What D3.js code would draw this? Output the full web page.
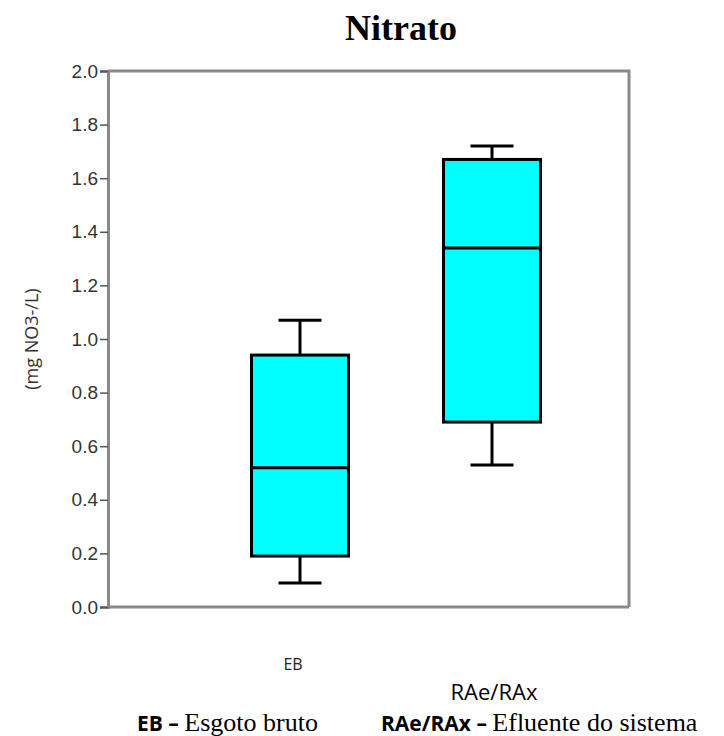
<!DOCTYPE html>
<html>
<head>
<meta charset="utf-8">
<script src="https://cdn.jsdelivr.net/npm/d3@7"></script>
<style>
  html, body { margin: 0; padding: 0; background: #fff; }
  svg { display: block; }
</style>
</head>
<body>
<svg id="chart" width="724" height="736"></svg>
<script>
// Nitrate box plot: raw sewage vs. system effluent
const categories = ["EB", "RAe/RAx"];
const whiskerLow  = [0.09, 0.53];
const quartile1   = [0.19, 0.69];
const medians     = [0.52, 1.34];
const quartile3   = [0.94, 1.67];
const whiskerHigh = [1.07, 1.72];
const yTicks = [0.0, 0.2, 0.4, 0.6, 0.8, 1.0, 1.2, 1.4, 1.6, 1.8, 2.0];
const legendItems = [
  { code: "EB", text: "Esgoto bruto" },
  { code: "RAe/RAx", text: "Efluente do sistema" }
];

const svg = d3.select("#chart");
const plot = { left: 108, right: 629, top: 71, bottom: 607 };

const y = d3.scaleLinear().domain([0, 2]).range([plot.bottom, plot.top]);
const x = d3.scalePoint().domain(categories).range([300, 492]);
const boxW = 97, capW = 43;

const boxes = categories.map((c, i) => ({
  cat: c, lo: whiskerLow[i], q1: quartile1[i], med: medians[i], q3: quartile3[i], hi: whiskerHigh[i]
}));

// Title
svg.append("text")
  .attr("x", 401).attr("y", 40)
  .attr("text-anchor", "middle")
  .style("font-family", "'Liberation Serif', 'Times New Roman', serif")
  .style("font-weight", "bold")
  .style("font-size", "36px")
  .text("Nitrato");

// Frame (top and right)
const frameColor = "#8a8a8a";
svg.append("path")
  .attr("d", `M${plot.left},${plot.top}H${plot.right}V${plot.bottom}`)
  .attr("fill", "none").attr("stroke", frameColor).attr("stroke-width", 3);

// Y axis
const yAxis = svg.append("g")
  .attr("transform", `translate(${plot.left},0)`)
  .call(d3.axisLeft(y).tickValues(yTicks).tickFormat(d3.format(".1f")).tickSize(8).tickPadding(2));
yAxis.select(".domain").attr("stroke", frameColor).attr("stroke-width", 3);
yAxis.selectAll(".tick line").attr("stroke", "#555").attr("stroke-width", 1.5);
yAxis.selectAll(".tick text")
  .attr("fill", "#333")
  .style("font-family", "'Liberation Sans', Arial, sans-serif")
  .style("font-size", "19px");

// Bottom axis line
svg.append("line")
  .attr("x1", plot.left).attr("x2", plot.right)
  .attr("y1", plot.bottom).attr("y2", plot.bottom)
  .attr("stroke", frameColor).attr("stroke-width", 3);

// Y axis title
svg.append("text")
  .attr("transform", `translate(38,${(plot.top + plot.bottom) / 2}) rotate(-90)`)
  .attr("text-anchor", "middle")
  .attr("fill", "#333")
  .style("font-family", "'Open Sans', 'Liberation Sans', sans-serif")
  .style("font-size", "18px")
  .text("(mg NO3-/L)");

// Boxes
const g = svg.append("g").attr("stroke", "#000").attr("stroke-width", 3);
const bx = g.selectAll("g.box").data(boxes).join("g").attr("class", "box");

bx.append("line")
  .attr("x1", d => x(d.cat)).attr("x2", d => x(d.cat))
  .attr("y1", d => y(d.hi)).attr("y2", d => y(d.q3));
bx.append("line")
  .attr("x1", d => x(d.cat)).attr("x2", d => x(d.cat))
  .attr("y1", d => y(d.q1)).attr("y2", d => y(d.lo));
bx.append("line")
  .attr("x1", d => x(d.cat) - capW / 2).attr("x2", d => x(d.cat) + capW / 2)
  .attr("y1", d => y(d.hi)).attr("y2", d => y(d.hi));
bx.append("line")
  .attr("x1", d => x(d.cat) - capW / 2).attr("x2", d => x(d.cat) + capW / 2)
  .attr("y1", d => y(d.lo)).attr("y2", d => y(d.lo));
bx.append("rect")
  .attr("x", d => x(d.cat) - boxW / 2).attr("width", boxW)
  .attr("y", d => y(d.q3)).attr("height", d => y(d.q1) - y(d.q3))
  .attr("fill", "#00ffff");
bx.append("line")
  .attr("x1", d => x(d.cat) - boxW / 2).attr("x2", d => x(d.cat) + boxW / 2)
  .attr("y1", d => y(d.med)).attr("y2", d => y(d.med));

// Category labels
svg.append("text")
  .attr("x", x(categories[0]) - 7).attr("y", 670)
  .attr("text-anchor", "middle").attr("fill", "#222")
  .style("font-family", "'Open Sans', sans-serif").style("font-size", "16px")
  .text(categories[0]);
svg.append("text")
  .attr("x", x(categories[1]) + 2).attr("y", 700)
  .attr("text-anchor", "middle").attr("fill", "#000")
  .style("font-family", "'Open Sans', sans-serif").style("font-size", "22px")
  .text(categories[1]);

// Legend line
const legendX = [137, 381];
legendItems.forEach((item, i) => {
  const t = svg.append("text").attr("x", legendX[i]).attr("y", 731);
  t.append("tspan")
    .style("font-family", "'Open Sans', sans-serif").style("font-weight", "bold").style("font-size", "21px")
    .text(item.code + " \u2013 ");
  t.append("tspan")
    .style("font-family", "'Liberation Serif', 'Times New Roman', serif").style("font-size", "26px")
    .text(item.text);
});
</script>
</body>
</html>
